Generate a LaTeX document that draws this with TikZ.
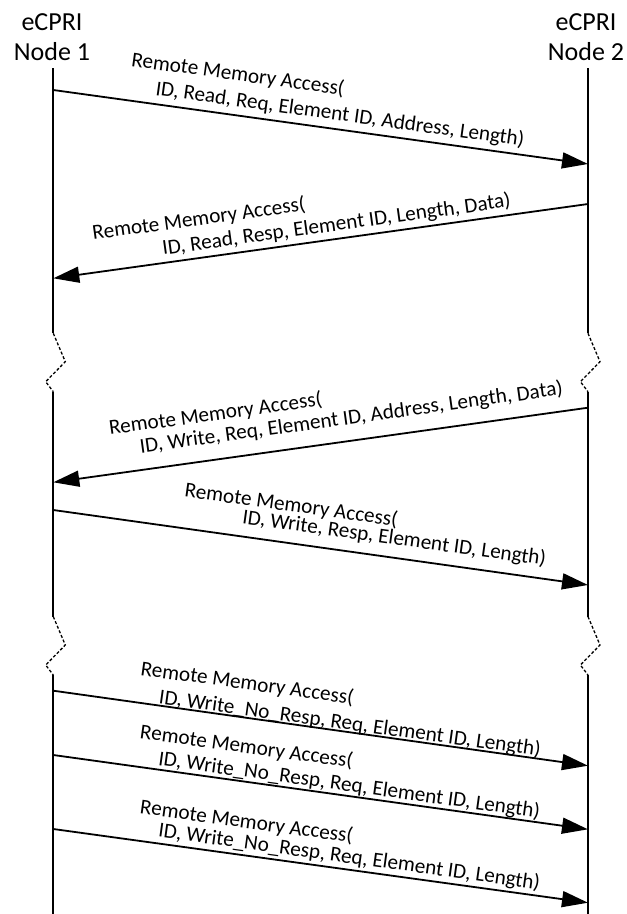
\documentclass[tikz,border=0pt]{standalone}
\usepackage{fontspec}
\setmainfont{Carlito}
\usetikzlibrary{arrows.meta}

\begin{document}
\begin{tikzpicture}[x=1pt,y=-1pt,
    lifeline/.style={line width=2pt},
    brk/.style={line width=1.3pt,dash pattern=on 3pt off 2pt},
    msg/.style={line width=1.8pt,-{Triangle[length=26pt,width=16pt]}},
    lbl/.style={font=\fontsize{21.2}{25}\selectfont,inner sep=0pt,anchor=base west},
    hdr/.style={font=\fontsize{26}{30}\selectfont,align=center,inner sep=0pt,anchor=base}]
                \useasboundingbox (0,0) rectangle (627,914);
                \node[hdr] (n1) at (52,60) {eCPRI\\Node 1};
                \node[hdr] (n2) at (586,60) {eCPRI\\Node 2};
                \foreach \x in {53.3,588} {
                    \draw[lifeline] (\x,68) -- (\x,333.3);
                    \draw[brk] (\x,333.3) -- (\x+12,361.7) -- (\x-7.6,381.7) -- (\x,391.7);
                    \draw[lifeline] (\x,391.7) -- (\x,616.6);
                    \draw[brk] (\x,616.6) -- (\x+12,645) -- (\x-7.6,665) -- (\x,675);
                    \draw[lifeline] (\x,675) -- (\x,914);
                }
                \coordinate (a1) at (53.3,90);    \coordinate (b1) at (588,164);
                \coordinate (a2) at (588,204);    \coordinate (b2) at (53.3,278.3);
                \coordinate (a3) at (588,407.7);  \coordinate (b3) at (53.3,482.3);
                \coordinate (a4) at (53.3,510);   \coordinate (b4) at (588,585);
                \coordinate (a5) at (53.3,690.7); \coordinate (b5) at (588,765.7);
                \coordinate (a6) at (53.3,755);   \coordinate (b6) at (588,829.3);
                \coordinate (a7) at (53.3,829);   \coordinate (b7) at (588,902.7);
                \foreach \i in {1,...,7} \draw[msg] (a\i) -- (b\i);
                \node[lbl,rotate=-7.9] (t1) at (130.7,66) {Remote Memory Access(};
                \node[lbl,rotate=-7.9] (p1) at (155,95) {ID, Read, Req, Element ID, Address, Length)};
                \node[lbl,rotate=7.9] (t2) at (93.3,240) {Remote Memory Access(};
                \node[lbl,rotate=7.9] (p2) at (163.3,255) {ID, Read, Resp, Element ID, Length, Data)};
                \node[lbl,rotate=7.9] (t3) at (110,435) {Remote Memory Access(};
                \node[lbl,rotate=7.9] (p3) at (140.7,453.3) {ID, Write, Req, Element ID, Address, Length, Data)};
                \node[lbl,rotate=-7.9] (t4) at (184,496.7) {Remote Memory Access(};
                \node[lbl,rotate=-7.9] (p4) at (241.7,523.3) {ID, Write, Resp, Element ID, Length)};
                \node[lbl,rotate=-7.9] (t5) at (140,675) {Remote Memory Access(};
                \node[lbl,rotate=-7.9] (p5) at (158.3,703.3) {ID, Write\_No\_Resp, Req, Element ID, Length)};
                \node[lbl,rotate=-7.9] (t6) at (139.3,738.3) {Remote Memory Access(};
                \node[lbl,rotate=-7.9] (p6) at (157.7,765) {ID, Write\_No\_Resp, Req, Element ID, Length)};
                \node[lbl,rotate=-7.9] (t7) at (139.3,813.3) {Remote Memory Access(};
                \node[lbl,rotate=-7.9] (p7) at (157.7,836.7) {ID, Write\_No\_Resp, Req, Element ID, Length)};
            \end{tikzpicture}
\end{document}
